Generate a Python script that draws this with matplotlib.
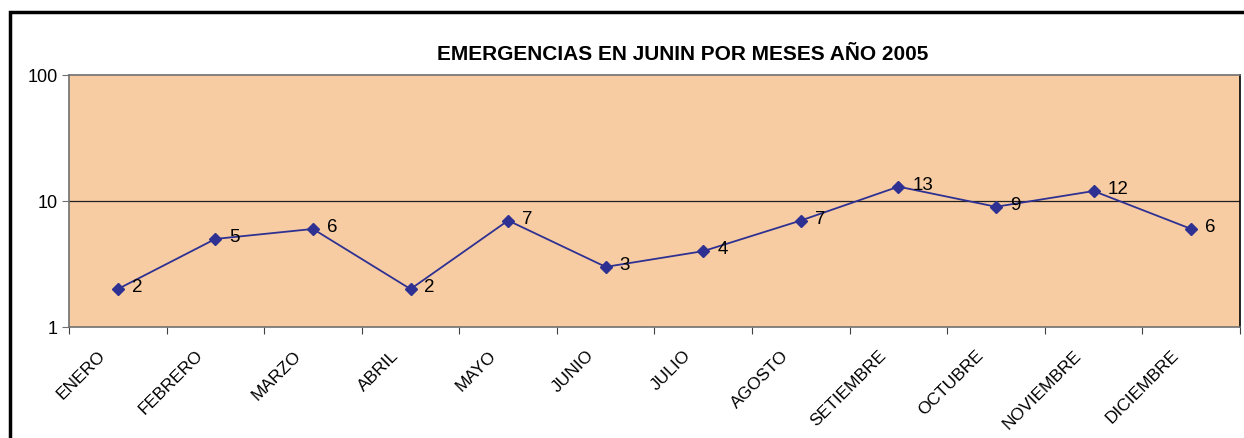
import matplotlib
matplotlib.use("Agg")
import matplotlib.pyplot as plt
import matplotlib.patches as patches
import matplotlib.transforms as mtransforms
from matplotlib.ticker import NullLocator, FixedLocator

plt.rcParams["font.family"] = ["Liberation Sans", "DejaVu Sans"]

months = ["ENERO", "FEBRERO", "MARZO", "ABRIL", "MAYO", "JUNIO", "JULIO",
          "AGOSTO", "SETIEMBRE", "OCTUBRE", "NOVIEMBRE", "DICIEMBRE"]
emergencias = [2, 5, 6, 2, 7, 3, 4, 7, 13, 9, 12, 6]
yticks = [1, 10, 100]

W, H = 1244, 438
fig = plt.figure(figsize=(W / 100, H / 100), dpi=100)
fig.patch.set_facecolor("white")

# chart frame (cut off at right and bottom)
fig.add_artist(patches.Rectangle((10 / W, -0.05), 1.1, (H - 12) / H + 0.05,
                                 transform=fig.transFigure, fill=False,
                                 edgecolor="black", lw=2.5))

ax = fig.add_axes([69 / W, 1 - 327 / H, (1240 - 69) / W, (327 - 75) / H])
ax.set_facecolor("#F8CCA3")
ax.set_yscale("log")
ax.set_ylim(1, 100)
ax.set_xlim(-0.5, len(months) - 0.5)

ax.axhline(10, color="#202020", lw=0.9, zorder=1)

x = list(range(len(months)))
ax.plot(x, emergencias, color="#2E3192", lw=1.3, marker="D", ms=6.5,
        markerfacecolor="#2E3192", markeredgecolor="#2E3192", zorder=3)
for xi, v in zip(x, emergencias):
    ax.annotate(str(v), (xi, v), xytext=(10, 1), textcoords="offset points",
                va="center", ha="left", fontsize=13.5, color="black")

ax.yaxis.set_major_locator(FixedLocator(yticks))
ax.yaxis.set_minor_locator(NullLocator())
ax.set_yticklabels([str(t) for t in yticks], fontsize=13)
ax.tick_params(axis="y", length=5, color="#707070", pad=3)

ax.xaxis.set_major_locator(FixedLocator([i + 0.5 for i in range(-1, len(months))]))
ax.set_xticklabels([])
ax.set_xticks(x, minor=True)
ax.set_xticklabels(months, minor=True, rotation=45, ha="right", va="top",
                   rotation_mode="anchor", fontsize=12.5)
ax.tick_params(axis="x", which="major", length=5, color="#404040")
ax.tick_params(axis="x", which="minor", length=0, pad=15)
shift = mtransforms.ScaledTranslation(-0.2, 0, fig.dpi_scale_trans)
for lab in ax.get_xticklabels(minor=True):
    lab.set_transform(lab.get_transform() + shift)

for side in ["left", "bottom", "top"]:
    ax.spines[side].set_color("#707070")
    ax.spines[side].set_linewidth(1.2)
ax.spines["right"].set_color("black")
ax.spines["right"].set_linewidth(1.2)

fig.text(683 / W, 1 - 54 / H, "EMERGENCIAS EN JUNIN POR MESES AÑO 2005",
         ha="center", va="center", fontsize=15, fontweight="bold")

fig.savefig("out.png", dpi=100, facecolor="white")
